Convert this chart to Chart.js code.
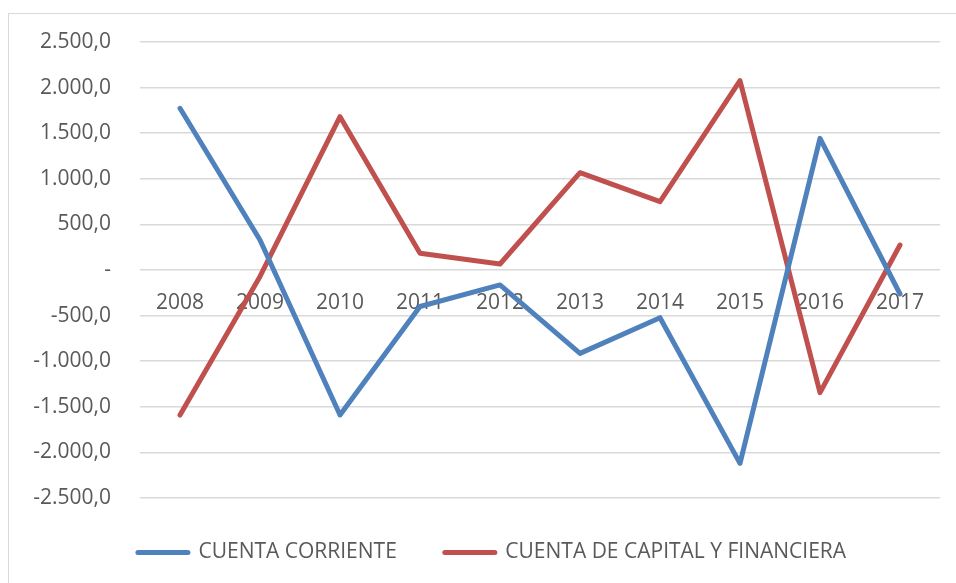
<!DOCTYPE html>
<html>
<head>
<meta charset="utf-8">
<script src="https://cdn.jsdelivr.net/npm/chart.js@4/dist/chart.umd.min.js"></script>
<style>
  html, body { margin: 0; padding: 0; background: #ffffff; }
  #wrap { width: 956px; height: 583px; position: relative; }
</style>
</head>
<body>
<div id="wrap"><canvas id="c" width="956" height="583"></canvas></div>
<script>
const years = ['2008','2009','2010','2011','2012','2013','2014','2015','2016','2017'];
const cuentaCorriente = [1773, 329, -1590, -400, -164, -914, -523, -2120, 1444, -263];
const cuentaCapital = [-1590, -70, 1681, 183, 66, 1067, 749, 2076, -1345, 274];
const seriesNames = ['CUENTA CORRIENTE', 'CUENTA DE CAPITAL Y FINANCIERA'];
const yTicks = [-2500, -2000, -1500, -1000, -500, 0, 500, 1000, 1500, 2000, 2500];

function fmt(v) {
  if (v === 0) return '-';
  const neg = v < 0;
  const a = Math.abs(v);
  const intPart = Math.floor(a).toString().replace(/\B(?=(\d{3})+(?!\d))/g, '.');
  const dec = Math.round((a - Math.floor(a)) * 10);
  return (neg ? '-' : '') + intPart + ',' + dec;
}

const borderPlugin = {
  id: 'outerBorder',
  beforeDraw(chart) {
    const ctx = chart.ctx;
    ctx.save();
    ctx.fillStyle = '#ffffff';
    ctx.fillRect(0, 0, chart.width, chart.height);
    ctx.strokeStyle = '#d9d9d9';
    ctx.lineWidth = 1;
    ctx.strokeRect(8.5, 13.5, 980, 600);
    ctx.restore();
  }
};

// place the legend block the way the original does (centred on x=492)
const legendPlace = {
  id: 'legendPlace',
  afterLayout(chart) {
    const lg = chart.legend;
    if (!lg) return;
    const dx = 492 - (lg.left + lg.right) / 2;
    lg.left += dx; lg.right += dx;
    lg.top -= 4; lg.bottom -= 4;
  }
};

const FONT = '"Open Sans", "Noto Sans", sans-serif';

new Chart(document.getElementById('c'), {
  type: 'line',
  data: {
    labels: years,
    datasets: [
      {
        label: seriesNames[0],
        data: cuentaCorriente,
        borderColor: '#4F81BD',
        backgroundColor: '#4F81BD',
        borderWidth: 5,
        pointRadius: 0,
        pointHoverRadius: 0,
        tension: 0,
        borderJoinStyle: 'round',
        borderCapStyle: 'round',
        fill: false
      },
      {
        label: seriesNames[1],
        data: cuentaCapital,
        borderColor: '#C0504D',
        backgroundColor: '#C0504D',
        borderWidth: 5,
        pointRadius: 0,
        pointHoverRadius: 0,
        tension: 0,
        borderJoinStyle: 'round',
        borderCapStyle: 'round',
        fill: false
      }
    ]
  },
  options: {
    responsive: false,
    animation: false,
    events: [],
    layout: { padding: { left: 28, right: 16, top: 42, bottom: 6 } },
    plugins: {
      tooltip: { enabled: false },
      legend: {
        position: 'bottom',
        align: 'center',
        labels: {
          usePointStyle: true,
          pointStyle: 'line',
          pointStyleWidth: 50,
          padding: 48,
          color: '#595959',
          font: { family: FONT, size: 21 },
          generateLabels(chart) {
            return chart.data.datasets.map((ds, i) => ({
              text: ds.label,
              fillStyle: ds.borderColor,
              strokeStyle: ds.borderColor,
              lineWidth: 5,
              lineCap: 'round',
              pointStyle: 'line',
              fontColor: '#595959',
              hidden: false,
              datasetIndex: i
            }));
          }
        }
      }
    },
    scales: {
      x: {
        type: 'category',
        position: { y: 0 },
        offset: true,
        grid: { display: false, drawTicks: false },
        border: { display: false },
        ticks: {
          color: '#595959',
          font: { family: FONT, size: 21 },
          padding: 20,
          maxRotation: 0,
          autoSkip: false
        }
      },
      y: {
        min: -2500,
        max: 2500,
        afterFit(scale) { scale.width = 112; },
        afterBuildTicks(scale) { scale.ticks = yTicks.map(v => ({ value: v })); },
        grid: { color: '#d9d9d9', lineWidth: 1.5, drawTicks: false },
        border: { display: false },
        ticks: {
          color: '#595959',
          font: { family: FONT, size: 21 },
          padding: 29,
          callback: (v) => fmt(v)
        }
      }
    }
  },
  plugins: [borderPlugin, legendPlace]
});
</script>
</body>
</html>
